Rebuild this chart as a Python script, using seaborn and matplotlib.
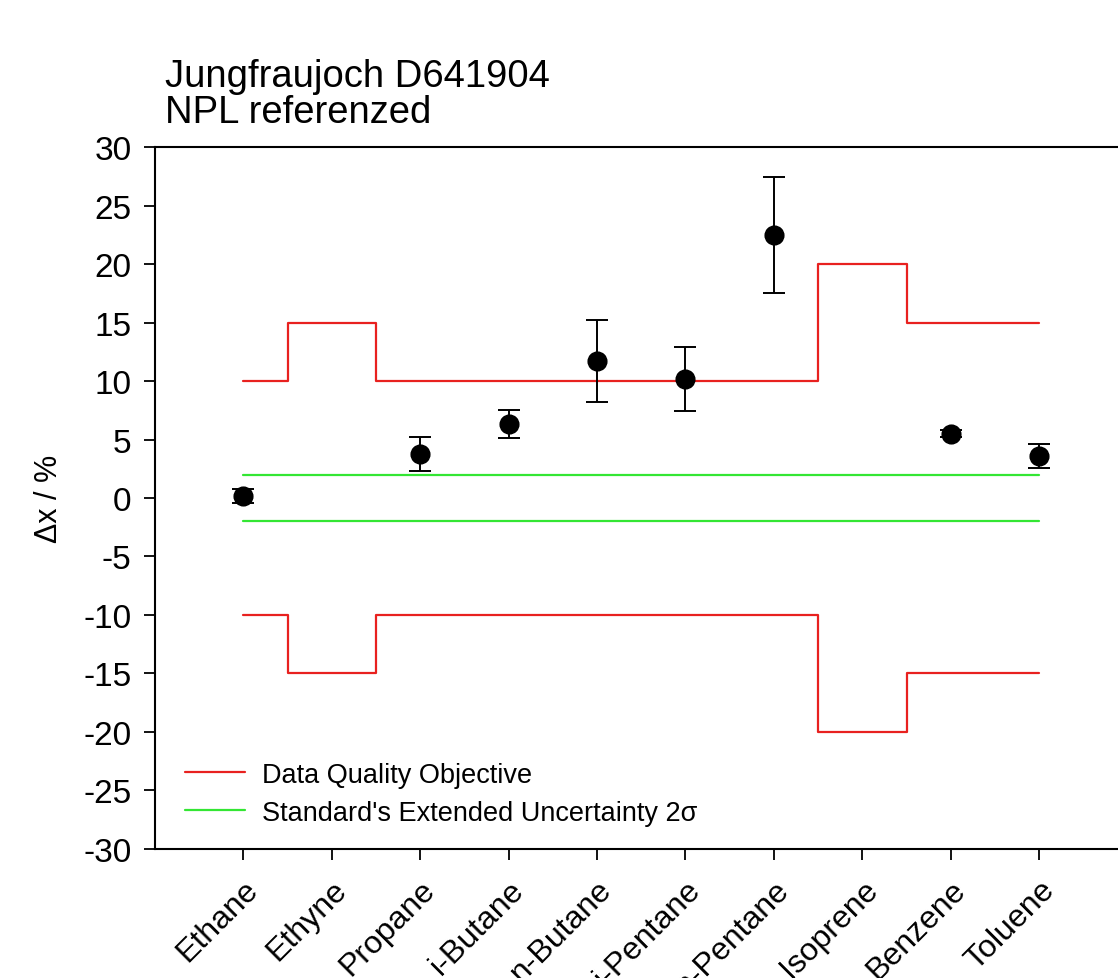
import numpy as np
import pandas as pd
import matplotlib
matplotlib.use('Agg')
import matplotlib.pyplot as plt
import seaborn as sns

# compounds on the x axis
compounds = ['Ethane', 'Ethyne', 'Propane', 'i-Butane', 'n-Butane',
             'i-Pentane', 'n-Pentane', 'Isoprene', 'Benzene', 'Toluene']

# measured deviation (%) and 2 sigma uncertainty; NaN where no value
deviation = [0.2, np.nan, 3.8, 6.3, 11.7, 10.2, 22.5, np.nan, 5.5, 3.6]
err_up = [0.6, np.nan, 1.4, 1.2, 3.5, 2.7, 4.9, np.nan, 0.3, 1.0]
err_down = [0.6, np.nan, 1.5, 1.2, 3.5, 2.8, 5.0, np.nan, 0.3, 1.0]

# data quality objective per compound (%)
dqo = [10, 15, 10, 10, 10, 10, 10, 20, 15, 15]
# standard's extended uncertainty (%)
std_unc = 2

yticks = list(range(-30, 31, 5))

df = pd.DataFrame({'compound': compounds, 'pos': np.arange(len(compounds)),
                   'dev': deviation, 'up': err_up, 'down': err_down,
                   'dqo': dqo})

sns.set_style('ticks')
plt.rcParams['font.family'] = ['Liberation Sans', 'DejaVu Sans']
plt.rcParams['text.color'] = 'black'
plt.rcParams['axes.labelcolor'] = 'black'
plt.rcParams['xtick.color'] = 'black'
plt.rcParams['ytick.color'] = 'black'
plt.rcParams['axes.edgecolor'] = 'black'
plt.rcParams['axes.unicode_minus'] = False

fig = plt.figure(figsize=(11.18, 9.79), dpi=100)
ax = fig.add_axes([0.1386, 0.1318, 0.870, 0.717])

red = '#e8211f'
green = '#33e633'

sns.lineplot(x=df['pos'], y=df['dqo'], drawstyle='steps-mid', color=red,
             lw=1.6, ax=ax, label='Data Quality Objective')
sns.lineplot(x=df['pos'], y=-df['dqo'], drawstyle='steps-mid', color=red,
             lw=1.6, ax=ax)
sns.lineplot(x=[0, len(compounds) - 1], y=[std_unc, std_unc], color=green,
             lw=1.6, ax=ax, label="Standard's Extended Uncertainty 2σ")
sns.lineplot(x=[0, len(compounds) - 1], y=[-std_unc, -std_unc], color=green,
             lw=1.6, ax=ax)

pts = df.dropna()
ax.errorbar(pts['pos'], pts['dev'], yerr=[pts['down'], pts['up']], fmt='none',
            ecolor='black', elinewidth=1.4, capsize=8, capthick=1.4, zorder=4)
sns.scatterplot(x=pts['pos'], y=pts['dev'], color='black', s=180,
                edgecolor='black', ax=ax, zorder=5, legend=False)

ax.set_xlim(-1, 10)
ax.set_ylim(-30, 30)
ax.set_yticks(yticks)
ax.set_yticklabels([str(t) for t in yticks])
ax.set_xticks(df['pos'])
ax.set_xticklabels(compounds, rotation=45, ha='right', rotation_mode='anchor',
                   fontsize=23)
ax.tick_params(axis='y', labelsize=24, length=8, width=1.3, pad=9)
ax.tick_params(axis='x', length=8, width=1.3, pad=10)
ax.set_xlabel('')
ax.set_ylabel('Δx / %', fontsize=22, labelpad=14)
for s in ax.spines.values():
    s.set_linewidth(1.5)

ax.legend(loc='lower left', frameon=False, fontsize=19.5, handlelength=2.2,
          handletextpad=0.63, labelspacing=0.45, borderpad=0,
          borderaxespad=0, bbox_to_anchor=(0.031, 0.033))

ax.set_title('Jungfraujoch D641904\nNPL referenzed', loc='left', fontsize=27.5,
             pad=18, x=0.01, linespacing=1.0)

fig.savefig('out.png', dpi=100)
